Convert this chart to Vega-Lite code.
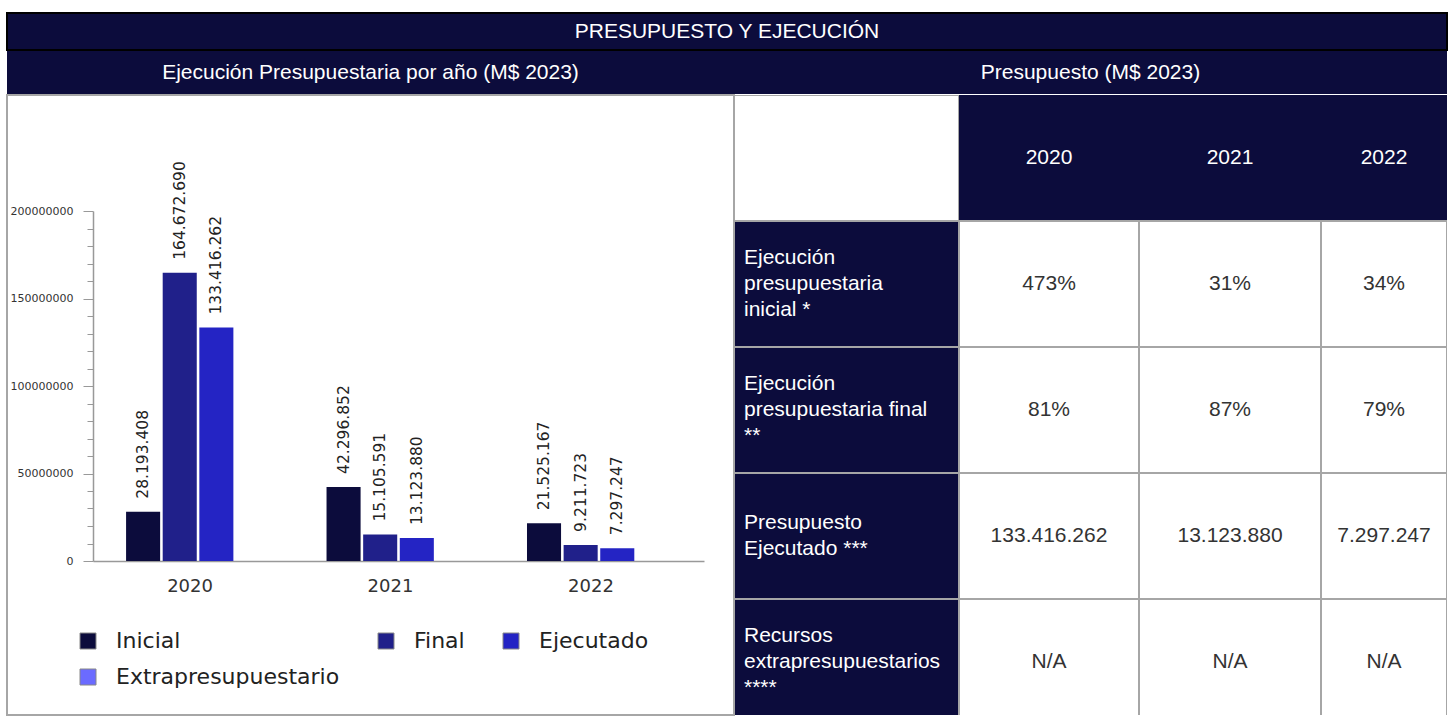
{
  "$schema": "https://vega.github.io/schema/vega-lite/v6.json",
  "padding": {"left": 6, "top": 12, "right": 0, "bottom": 0},
  "spacing": 0,
  "bounds": "full",
  "background": "white",
  "config": {
    "view": {"stroke": null},
    "concat": {"spacing": 0},
    "locale": {"number": {"decimal": ",", "thousands": ".", "grouping": [3], "currency": ["$", ""]}}
  },
  "datasets": {
    "bars": [
      {"year": "2020", "serie": "Inicial", "value": 28193408},
      {"year": "2020", "serie": "Final", "value": 164672690},
      {"year": "2020", "serie": "Ejecutado", "value": 133416262},
      {"year": "2021", "serie": "Inicial", "value": 42296852},
      {"year": "2021", "serie": "Final", "value": 15105591},
      {"year": "2021", "serie": "Ejecutado", "value": 13123880},
      {"year": "2022", "serie": "Inicial", "value": 21525167},
      {"year": "2022", "serie": "Final", "value": 9211723},
      {"year": "2022", "serie": "Ejecutado", "value": 7297247}
    ],
    "table": [
      {"col": "label", "row": "h", "text": "", "kind": "blank", "lines": 1},
      {"col": "label", "row": "r1", "text": "Ejecución\npresupuestaria\ninicial *", "kind": "label", "lines": 3},
      {"col": "label", "row": "r2", "text": "Ejecución\npresupuestaria final\n**", "kind": "label", "lines": 3},
      {"col": "label", "row": "r3", "text": "Presupuesto\nEjecutado ***", "kind": "label", "lines": 2},
      {"col": "label", "row": "r4", "text": "Recursos\nextrapresupuestarios\n****", "kind": "label", "lines": 3},
      {"col": "2020", "row": "h", "text": "2020", "kind": "head", "lines": 1},
      {"col": "2020", "row": "r1", "text": "473%", "kind": "cell", "lines": 1},
      {"col": "2020", "row": "r2", "text": "81%", "kind": "cell", "lines": 1},
      {"col": "2020", "row": "r3", "text": "133.416.262", "kind": "cell", "lines": 1},
      {"col": "2020", "row": "r4", "text": "N/A", "kind": "cell", "lines": 1},
      {"col": "2021", "row": "h", "text": "2021", "kind": "head", "lines": 1},
      {"col": "2021", "row": "r1", "text": "31%", "kind": "cell", "lines": 1},
      {"col": "2021", "row": "r2", "text": "87%", "kind": "cell", "lines": 1},
      {"col": "2021", "row": "r3", "text": "13.123.880", "kind": "cell", "lines": 1},
      {"col": "2021", "row": "r4", "text": "N/A", "kind": "cell", "lines": 1},
      {"col": "2022", "row": "h", "text": "2022", "kind": "head", "lines": 1},
      {"col": "2022", "row": "r1", "text": "34%", "kind": "cell", "lines": 1},
      {"col": "2022", "row": "r2", "text": "79%", "kind": "cell", "lines": 1},
      {"col": "2022", "row": "r3", "text": "7.297.247", "kind": "cell", "lines": 1},
      {"col": "2022", "row": "r4", "text": "N/A", "kind": "cell", "lines": 1}
    ]
  },
  "vconcat": [
    {
      "width": 1440, "height": 37,
      "view": {"fill": "#0c0c3c", "stroke": "#000", "strokeWidth": 2},
      "data": {"values": [{"t": "PRESUPUESTO Y EJECUCIÓN"}]},
      "mark": {"type": "text", "font": "Liberation Sans", "fontSize": 21, "color": "white"},
      "encoding": {
        "x": {"field": "t", "type": "nominal", "axis": null, "scale": {"paddingInner": 0, "paddingOuter": 0}},
        "y": {"field": "t", "type": "nominal", "axis": null, "scale": {"paddingInner": 0, "paddingOuter": 0}},
        "text": {"field": "t"}
      }
    },
    {
      "spacing": 0,
      "bounds": "flush",
      "hconcat": [
        {
          "width": 727, "height": 43,
          "view": {"fill": "#0c0c3c", "stroke": null},
          "data": {"values": [{"t": "Ejecución Presupuestaria por año (M$ 2023)"}]},
          "mark": {"type": "text", "font": "Liberation Sans", "fontSize": 21, "color": "white"},
          "encoding": {
            "x": {"field": "t", "type": "nominal", "axis": null, "scale": {"paddingInner": 0, "paddingOuter": 0}},
            "y": {"field": "t", "type": "nominal", "axis": null, "scale": {"paddingInner": 0, "paddingOuter": 0}},
            "text": {"field": "t"}
          }
        },
        {
          "width": 713, "height": 43,
          "view": {"fill": "#0c0c3c", "stroke": null},
          "data": {"values": [{"t": "Presupuesto (M$ 2023)"}]},
          "mark": {"type": "text", "font": "Liberation Sans", "fontSize": 21, "color": "white"},
          "encoding": {
            "x": {"field": "t", "type": "nominal", "axis": null, "scale": {"paddingInner": 0, "paddingOuter": 0}},
            "y": {"field": "t", "type": "nominal", "axis": null, "scale": {"paddingInner": 0, "paddingOuter": 0}},
            "text": {"field": "t"}
          }
        }
      ]
    },
    {
      "spacing": 0,
      "bounds": "flush",
      "hconcat": [
        {
          "width": 727, "height": 620,
          "view": {"fill": "white", "stroke": "#a6a6a6", "strokeWidth": 2},
          "data": {"name": "bars"},
          "encoding": {
            "x": {
              "field": "year", "type": "nominal",
              "scale": {"domain": ["2020", "2021", "2022"], "range": [86, 697], "paddingInner": 0.282, "paddingOuter": 0.165},
              "axis": {"orient": "bottom", "offset": -154, "title": null, "ticks": false, "labelAngle": 0, "labelOffset": -8, "domainColor": "#999", "domainWidth": 1.5, "labelFont": "DejaVu Sans", "labelFontSize": 18, "labelColor": "#333", "labelPadding": 16}
            },
            "xOffset": {
              "field": "serie", "type": "nominal",
              "scale": {"domain": ["Inicial", "Final", "Ejecutado", "Extrapresupuestario"], "paddingInner": 0.07, "paddingOuter": 0}
            },
            "y": {
              "field": "value", "type": "quantitative",
              "scale": {"domain": [0, 200000000], "range": [466, 116], "nice": false, "zero": true},
              "axis": {
                "orient": "left", "offset": -86, "title": null, "grid": false,
                "values": [0, 10000000, 20000000, 30000000, 40000000, 50000000, 60000000, 70000000, 80000000, 90000000, 100000000, 110000000, 120000000, 130000000, 140000000, 150000000, 160000000, 170000000, 180000000, 190000000, 200000000],
                "format": "d",
                "labelExpr": "datum.value % 50000000 === 0 ? datum.label : ''",
                "labelOverlap": false,
                "tickSize": {"condition": {"test": "datum.value % 50000000 === 0", "value": 10}, "value": 6},
                "tickColor": "#999", "domainColor": "#999", "domainWidth": 1.5,
                "labelFont": "DejaVu Sans", "labelFontSize": 11, "labelColor": "#333", "labelPadding": 10
              }
            }
          },
          "layer": [
            {
              "mark": {"type": "bar"},
              "encoding": {
                "color": {
                  "field": "serie", "type": "nominal",
                  "scale": {"domain": ["Inicial", "Final", "Ejecutado", "Extrapresupuestario"], "range": ["#0c0c3c", "#20208a", "#2424c4", "#6b6bff"]},
                  "legend": {
                    "orient": "none", "legendX": 70, "legendY": 617, "direction": "horizontal", "columns": 3, "title": null,
                    "symbolType": "square", "symbolSize": 256, "symbolStrokeColor": "#888", "symbolStrokeWidth": 1,
                    "labelFont": "DejaVu Sans", "labelFontSize": 22, "labelColor": "#222", "labelOffset": 17,
                    "columnPadding": 35, "rowPadding": 14, "labelLimit": 400
                  }
                }
              }
            },
            {
              "mark": {"type": "text", "angle": 270, "align": "left", "baseline": "middle", "dx": 13, "font": "DejaVu Sans", "fontSize": 15.5, "color": "#222"},
              "encoding": {"text": {"field": "value", "type": "quantitative", "format": ",d"}}
            }
          ]
        },
        {
          "width": 225, "height": 620,
          "data": {"name": "table"},
          "transform": [{"filter": "datum.col === 'label'"}],
          "encoding": {
            "x": {"field": "col", "type": "nominal", "axis": null, "scale": {"paddingInner": 0, "paddingOuter": 0}},
            "y": {"field": "row", "type": "nominal", "axis": null, "sort": null, "scale": {"domain": ["h", "r1", "r2", "r3", "r4"], "range": [0, 630], "paddingInner": 0, "paddingOuter": 0}}
          },
          "layer": [
            {
              "mark": {"type": "rect", "clip": true, "strokeWidth": 2},
              "encoding": {
                "fill": {"condition": {"test": "datum.kind === 'blank'", "value": "white"}, "value": "#0c0c3c"},
                "stroke": {"value": "#a6a6a6"}
              }
            },
            {
              "transform": [{"filter": "datum.lines === 3"}],
              "mark": {"type": "text", "clip": true, "align": "left", "baseline": "middle", "dx": 10, "dy": -26, "font": "Liberation Sans", "fontSize": 21, "lineBreak": "\n", "lineHeight": 26, "color": "white"},
              "encoding": {
                "x": {"field": "col", "type": "nominal", "bandPosition": 0, "axis": null},
                "text": {"field": "text"}
              }
            },
            {
              "transform": [{"filter": "datum.lines === 2"}],
              "mark": {"type": "text", "clip": true, "align": "left", "baseline": "middle", "dx": 10, "dy": -13, "font": "Liberation Sans", "fontSize": 21, "lineBreak": "\n", "lineHeight": 26, "color": "white"},
              "encoding": {
                "x": {"field": "col", "type": "nominal", "bandPosition": 0, "axis": null},
                "text": {"field": "text"}
              }
            }
          ]
        },
        {
          "width": 180, "height": 620,
          "data": {"name": "table"},
          "transform": [{"filter": "datum.col === '2020'"}],
          "encoding": {
            "x": {"field": "col", "type": "nominal", "axis": null, "scale": {"paddingInner": 0, "paddingOuter": 0}},
            "y": {"field": "row", "type": "nominal", "axis": null, "sort": null, "scale": {"domain": ["h", "r1", "r2", "r3", "r4"], "range": [0, 630], "paddingInner": 0, "paddingOuter": 0}}
          },
          "layer": [
            {
              "mark": {"type": "rect", "clip": true, "strokeWidth": 2},
              "encoding": {
                "fill": {"condition": {"test": "datum.kind === 'head'", "value": "#0c0c3c"}, "value": "white"},
                "stroke": {"condition": {"test": "datum.kind === 'head'", "value": "#0c0c3c"}, "value": "#a6a6a6"}
              }
            },
            {
              "mark": {"type": "text", "clip": true, "font": "Liberation Sans", "fontSize": 21},
              "encoding": {
                "text": {"field": "text"},
                "color": {"condition": {"test": "datum.kind === 'head'", "value": "white"}, "value": "#333"}
              }
            }
          ]
        },
        {
          "width": 182, "height": 620,
          "data": {"name": "table"},
          "transform": [{"filter": "datum.col === '2021'"}],
          "encoding": {
            "x": {"field": "col", "type": "nominal", "axis": null, "scale": {"paddingInner": 0, "paddingOuter": 0}},
            "y": {"field": "row", "type": "nominal", "axis": null, "sort": null, "scale": {"domain": ["h", "r1", "r2", "r3", "r4"], "range": [0, 630], "paddingInner": 0, "paddingOuter": 0}}
          },
          "layer": [
            {
              "mark": {"type": "rect", "clip": true, "strokeWidth": 2},
              "encoding": {
                "fill": {"condition": {"test": "datum.kind === 'head'", "value": "#0c0c3c"}, "value": "white"},
                "stroke": {"condition": {"test": "datum.kind === 'head'", "value": "#0c0c3c"}, "value": "#a6a6a6"}
              }
            },
            {
              "mark": {"type": "text", "clip": true, "font": "Liberation Sans", "fontSize": 21},
              "encoding": {
                "text": {"field": "text"},
                "color": {"condition": {"test": "datum.kind === 'head'", "value": "white"}, "value": "#333"}
              }
            }
          ]
        },
        {
          "width": 126, "height": 620,
          "data": {"name": "table"},
          "transform": [{"filter": "datum.col === '2022'"}],
          "encoding": {
            "x": {"field": "col", "type": "nominal", "axis": null, "scale": {"paddingInner": 0, "paddingOuter": 0}},
            "y": {"field": "row", "type": "nominal", "axis": null, "sort": null, "scale": {"domain": ["h", "r1", "r2", "r3", "r4"], "range": [0, 630], "paddingInner": 0, "paddingOuter": 0}}
          },
          "layer": [
            {
              "mark": {"type": "rect", "clip": true, "strokeWidth": 2},
              "encoding": {
                "fill": {"condition": {"test": "datum.kind === 'head'", "value": "#0c0c3c"}, "value": "white"},
                "stroke": {"condition": {"test": "datum.kind === 'head'", "value": "#0c0c3c"}, "value": "#a6a6a6"}
              }
            },
            {
              "mark": {"type": "text", "clip": true, "font": "Liberation Sans", "fontSize": 21},
              "encoding": {
                "text": {"field": "text"},
                "color": {"condition": {"test": "datum.kind === 'head'", "value": "white"}, "value": "#333"}
              }
            }
          ]
        }
      ]
    }
  ]
}
